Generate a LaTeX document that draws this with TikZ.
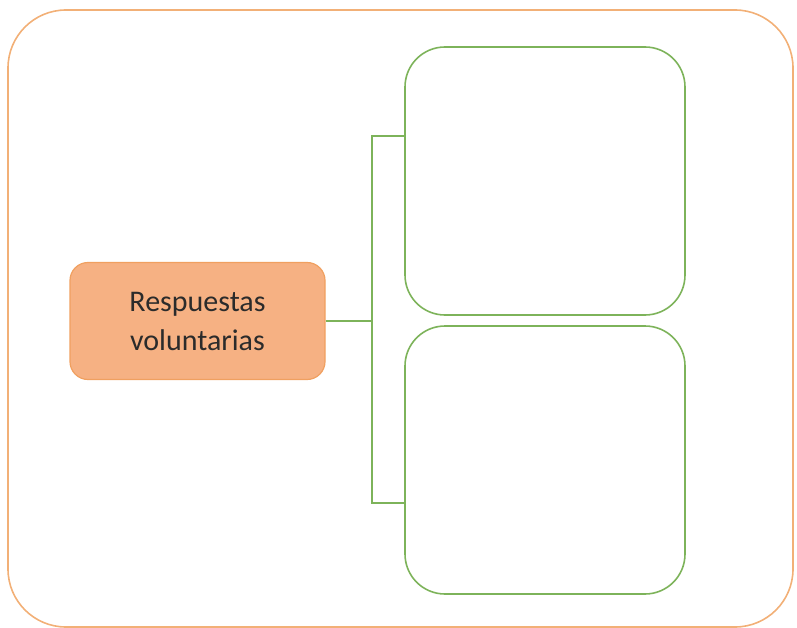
\documentclass[tikz,border=0pt]{standalone}
\usepackage{fontspec}
\setmainfont{Carlito}
\definecolor{outerorange}{HTML}{F2B077}
\definecolor{nodefill}{HTML}{F6B183}
\definecolor{nodeborder}{HTML}{F0A060}
\definecolor{boxgreen}{HTML}{7DB35A}
\definecolor{txt}{HTML}{2B2B2B}
\begin{document}
\begin{tikzpicture}[x=1pt,y=-1pt,
  outerframe/.style={draw=outerorange,line width=1.6pt,rounded corners=58pt},
  mainbox/.style={draw=nodeborder,fill=nodefill,line width=1.2pt,rounded corners=18pt,
    minimum width=255pt,minimum height=117pt,inner sep=0pt,align=center,
    font=\fontsize{30}{39}\selectfont,text=txt},
  greenbox/.style={draw=boxgreen,line width=1.6pt,rounded corners=40pt,
    minimum width=280pt,minimum height=268pt,inner sep=0pt},
  link/.style={draw=boxgreen,line width=1.8pt}]
\useasboundingbox (0,0) rectangle (797,628);
\draw[outerframe] (8,10) rectangle (793,627);
\node[mainbox] (main) at (197.5,321) {Respuestas\\voluntarias};
\node[greenbox] (top) at (545,181) {};
\node[greenbox] (bot) at (545,460) {};
\coordinate (j) at (372,321);
\coordinate (jt) at (372,136);
\coordinate (jb) at (372,503);
\draw[link] (main.east) -- (j);
\draw[link] (top.west |- jt) -- (jt) -- (jb) -- (bot.west |- jb);
\end{tikzpicture}
\end{document}
